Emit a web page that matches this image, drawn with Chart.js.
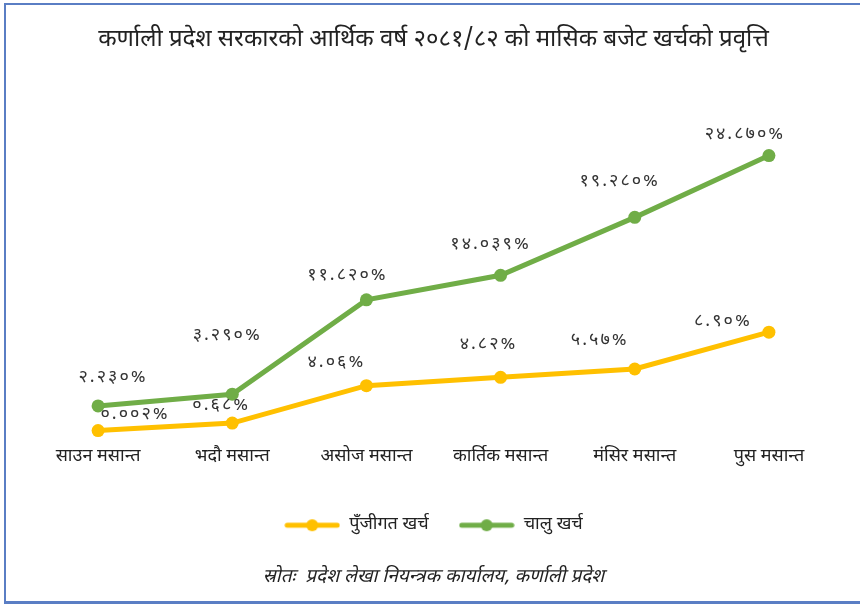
<!DOCTYPE html>
<html>
<head>
<meta charset="utf-8">
<script src="https://cdn.jsdelivr.net/npm/chart.js@4/dist/chart.umd.min.js"></script>
<style>
  html, body { margin: 0; padding: 0; background: #ffffff; }
  #wrap { position: absolute; left: 0; top: 0; width: 860px; height: 604px; }
  #frame { position: absolute; left: 4px; top: 3px; width: 870px; height: 596px; border-left: 2px solid #5A7EC4; border-top: 2px solid #5A7EC4; border-bottom: 3px solid #5A7EC4; pointer-events: none; }
  canvas { position: absolute; left: 0; top: 0; }
</style>
</head>
<body>
<div id="wrap">
  <canvas id="c" width="860" height="604"></canvas>
  <div id="frame"></div>
</div>
<script>
// ---- data ----
const months = ['साउन मसान्त', 'भदौ मसान्त', 'असोज मसान्त', 'कार्तिक मसान्त', 'मंसिर मसान्त', 'पुस मसान्त'];
const capitalValues = [0.002, 0.68, 4.06, 4.82, 5.57, 8.90];
const recurrentValues = [2.230, 3.290, 11.820, 14.039, 19.280, 24.870];
const capitalLabels = ['०.००२%', '०.६८%', '४.०६%', '४.८२%', '५.५७%', '८.९०%'];
const recurrentLabels = ['२.२३०%', '३.२९०%', '११.८२०%', '१४.०३९%', '१९.२८०%', '२४.८७०%'];
const seriesNames = ['पुँजीगत खर्च', 'चालु खर्च'];
const titleText = 'कर्णाली प्रदेश सरकारको आर्थिक वर्ष २०८१/८२ को मासिक बजेट खर्चको प्रवृत्ति';
const sourceText = 'स्रोतः  प्रदेश लेखा नियन्त्रक कार्यालय, कर्णाली प्रदेश';

// ---- styling (label placement offsets relative to the point, in px) ----
const YELLOW = '#FFC000';
const GREEN = '#70AD47';
const FONT = "'Noto Sans Devanagari', 'Lohit Devanagari', 'Noto Sans', sans-serif";
const capitalOffsets = [[37, -15], [-11, -16], [-30, -22], [-12, -32], [-35, -27], [-46, -10]];
const recurrentOffsets = [[15, -27], [-5, -58], [-19, -23], [-10, -30], [-15, -35], [-24, -20]];

function legendMarker(color) {
  const cv = document.createElement('canvas');
  cv.width = 56; cv.height = 14;
  const g = cv.getContext('2d');
  g.strokeStyle = color; g.lineWidth = 5; g.lineCap = 'round';
  g.beginPath(); g.moveTo(3, 7); g.lineTo(53, 7); g.stroke();
  g.fillStyle = color; g.beginPath(); g.arc(28, 7, 6, 0, Math.PI * 2); g.fill();
  return cv;
}

const labelPlugin = {
  id: 'valueLabels',
  afterDatasetsDraw(chart) {
    const ctx = chart.ctx;
    const sets = [[capitalLabels, capitalOffsets], [recurrentLabels, recurrentOffsets]];
    ctx.save();
    ctx.font = '18px ' + FONT;
    ctx.letterSpacing = '2px';
    ctx.fillStyle = '#333333';
    ctx.textAlign = 'center';
    ctx.textBaseline = 'middle';
    sets.forEach((s, di) => {
      const meta = chart.getDatasetMeta(di);
      meta.data.forEach((pt, i) => {
        ctx.fillText(s[0][i], pt.x + s[1][i][0], pt.y + s[1][i][1]);
      });
    });
    ctx.restore();
  }
};

new Chart(document.getElementById('c'), {
  type: 'line',
  data: {
    labels: months,
    datasets: [
      { label: seriesNames[0], data: capitalValues, borderColor: YELLOW, backgroundColor: YELLOW, clip: false,
        borderWidth: 5, pointRadius: 6.5, pointHoverRadius: 6.5, pointBackgroundColor: YELLOW, pointBorderWidth: 0, tension: 0 },
      { label: seriesNames[1], data: recurrentValues, borderColor: GREEN, backgroundColor: GREEN, clip: false,
        borderWidth: 5, pointRadius: 6.5, pointHoverRadius: 6.5, pointBackgroundColor: GREEN, pointBorderWidth: 0, tension: 0 }
    ]
  },
  options: {
    responsive: false,
    animation: false,
    devicePixelRatio: 1,
    layout: { padding: { left: 31, right: 24, top: 10, bottom: 8 } },
    scales: {
      x: {
        offset: true,
        grid: { display: false, drawTicks: false },
        border: { display: false },
        ticks: { color: '#222', font: { family: FONT, size: 18 }, padding: 16, maxRotation: 0 },
        afterFit(scale) { scale.height += 2; }
      },
      y: { display: false, min: 0, max: 30 }
    },
    plugins: {
      title: { display: true, text: titleText, color: '#222', font: { family: FONT, size: 24, weight: 'normal' }, padding: { top: 17, bottom: 43 } },
      subtitle: { display: true, position: 'bottom', text: sourceText, color: '#222', font: { family: FONT, size: 19, style: 'italic' }, padding: { top: 23, bottom: 6 } },
      legend: {
        position: 'bottom',
        labels: {
          usePointStyle: true, pointStyleWidth: 56, color: '#222', padding: 30,
          font: { family: FONT, size: 18 },
          generateLabels(chart) {
            return chart.data.datasets.map((ds, i) => ({
              text: ds.label, fillStyle: ds.borderColor, strokeStyle: ds.borderColor, lineWidth: 0,
              pointStyle: legendMarker(ds.borderColor), datasetIndex: i, hidden: false, fontColor: '#222'
            }));
          }
        }
      },
      tooltip: { enabled: false }
    }
  },
  plugins: [labelPlugin]
});
</script>
</body>
</html>
